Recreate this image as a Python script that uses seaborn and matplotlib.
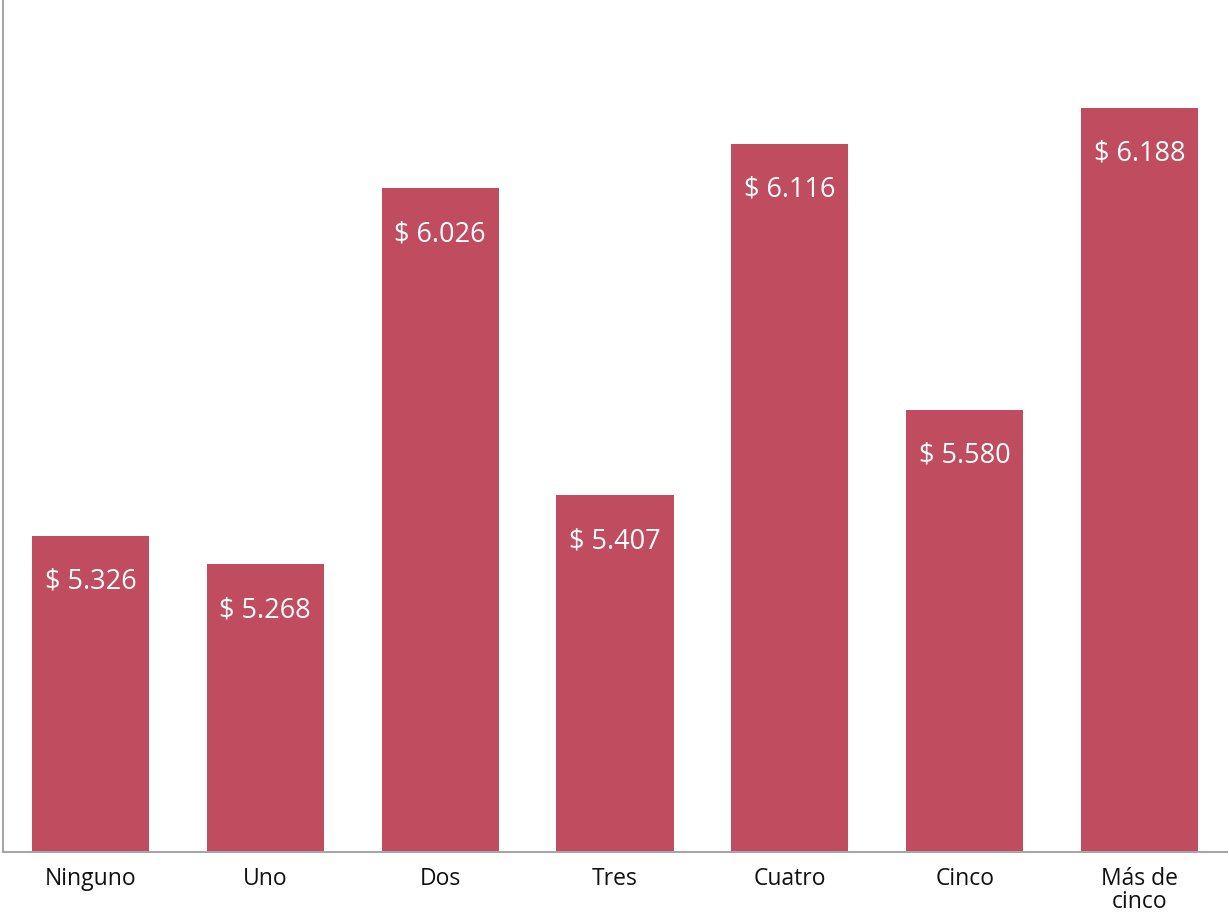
import pandas as pd
import seaborn as sns
import matplotlib.pyplot as plt

categorias = ["Ninguno", "Uno", "Dos", "Tres", "Cuatro", "Cinco", "Más de\ncinco"]
valores = [5326, 5268, 6026, 5407, 6116, 5580, 6188]

df = pd.DataFrame({"cat": categorias, "valor": valores})

sns.set_style("white")
plt.rcParams['font.family'] = ['Open Sans', 'DejaVu Sans']

fig = plt.figure(figsize=(12.29, 9.13), dpi=100)
ax = fig.add_axes([3 / 1229, 61 / 913, 1224 / 1229, 852 / 913])

sns.barplot(data=df, x="cat", y="valor", color="#C04C60", saturation=1, width=0.67,
            linewidth=0, ax=ax)
ax.set_ylim(4688, 6406)
ax.set_xlim(-0.5, len(categorias) - 0.5)

for i, v in enumerate(valores):
    txt = "$ " + f"{v:,}".replace(",", ".")
    ax.annotate(txt, (i, v), xytext=(0, -33), textcoords="offset points",
                ha="center", va="center", color="white", fontsize=19.5)

ax.set_xlabel(None)
ax.set_ylabel(None)
ax.set_yticks([])
ax.tick_params(axis="x", length=0, labelsize=16.5, pad=11, colors="#111111")
for t in ax.get_xticklabels():
    t.set_linespacing(0.95)
for s in ["top", "right"]:
    ax.spines[s].set_visible(False)
for s in ["left", "bottom"]:
    ax.spines[s].set_color("#A6A6A6")
    ax.spines[s].set_linewidth(1.5)

plt.savefig("out.png", dpi=100)
